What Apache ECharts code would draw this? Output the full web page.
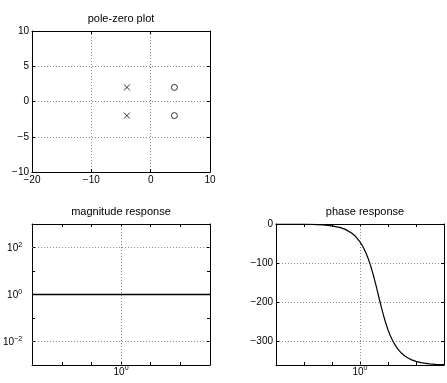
<!DOCTYPE html>
<html>
<head>
<meta charset="utf-8">
<script src="https://cdn.jsdelivr.net/npm/echarts@6/dist/echarts.min.js"></script>
<style>
html,body{margin:0;padding:0;background:#fff;}
#c{width:447px;height:383px;}
</style>
</head>
<body>
<div id="c"></div>
<script>
// ---- data ----
var poleRe = [-4, -4];
var poleIm = [2, -2];
var zeroRe = [4, 4];
var zeroIm = [2, -2];

var magFreq = [0.001, 0.01, 0.1, 1, 10, 100, 1000];
var magnitude = [1, 1, 1, 1, 1, 1, 1];

var phaseFreq = [0.001, 0.003, 0.01, 0.02, 0.03, 0.05, 0.1, 0.2, 0.3, 0.5, 0.7, 1, 1.25, 1.5, 1.75, 2, 2.25, 2.5, 2.75, 3, 3.25, 3.5, 3.75, 4, 4.25, 4.47, 5, 5.5, 6, 7, 8, 9, 10, 12, 15, 20, 25, 30, 40, 50, 70, 100, 150, 200, 300, 500, 1000];
var phase = [-0.05, -0.14, -0.46, -0.92, -1.4, -2.3, -4.6, -9.2, -13.7, -22.9, -32.0, -45.7, -56.9, -68.1, -79.2, -90, -100.6, -111.0, -121.0, -130.8, -140.1, -149.1, -157.6, -165.7, -173.5, -180, -194.3, -206.2, -216.9, -234.8, -249.0, -260.6, -270, -284.5, -299.3, -314.3, -323.4, -329.5, -337.1, -341.7, -346.9, -350.8, -353.9, -355.4, -356.9, -358.2, -359.1];

var pzXTicks = [-20, -10, 0, 10];
var pzYTicks = [-10, -5, 0, 5, 10];
var magYLabelExps = [-2, 0, 2];
var logXLabelExps = [0];
var phaseYTicks = [-300, -200, -100, 0];

var titles = ['pole-zero plot', 'magnitude response', 'phase response'];

// ---- helpers ----
var FONT = '"Liberation Sans", Arial, Helvetica, sans-serif';
function zip(a, b) { return a.map(function (v, i) { return [v, b[i]]; }); }
function num(v) { return v < 0 ? '\u2212' + Math.abs(v) : String(v); }
function pow10Label(exp) { return '{b|10}{s|' + num(exp) + '}'; }
var rich = {
  b: { fontSize: 10, fontFamily: FONT, color: '#000', lineHeight: 12, verticalAlign: 'bottom' },
  s: { fontSize: 7, fontFamily: FONT, color: '#000', lineHeight: 7, verticalAlign: 'top', padding: [0, 0, 6, 0] }
};
var dotted = { color: '#888', width: 1, type: [1, 2] };
var lineBlack = { show: true, onZero: false, lineStyle: { color: '#000', width: 1 } };
var tickIn = { show: true, inside: true, length: 3, lineStyle: { color: '#000', width: 1 } };

function valAxis(grid, pos, min, max, interval, ticks, withLabel, withSplit, margin) {
  return {
    type: 'value', gridIndex: grid, position: pos, min: min, max: max, interval: interval,
    axisLine: lineBlack, axisTick: tickIn,
    axisLabel: withLabel ? {
      show: true, margin: margin, color: '#000', fontSize: 10, fontFamily: FONT,
      formatter: function (v) { return ticks.indexOf(v) >= 0 ? num(v) : ''; }
    } : { show: false },
    splitLine: withSplit ? { show: true, lineStyle: dotted } : { show: false }
  };
}
function logAxis(grid, pos, exps, withLabel, margin) {
  return {
    type: 'log', logBase: 10, gridIndex: grid, position: pos, min: 0.001, max: 1000, interval: 1,
    axisLine: lineBlack, axisTick: tickIn,
    axisLabel: withLabel ? {
      show: true, margin: margin, rich: rich,
      formatter: function (v) {
        var e = Math.round(Math.log10(v));
        return exps.indexOf(e) >= 0 ? pow10Label(e) : '';
      }
    } : { show: false },
    splitLine: { show: false }
  };
}

var option = {
  animation: false,
  backgroundColor: '#fff',
  graphic: [
    { type: 'text', x: 121, y: 19, style: { text: titles[0], textAlign: 'center', textVerticalAlign: 'middle', font: '11px ' + FONT, fill: '#000' } },
    { type: 'text', x: 121, y: 212, style: { text: titles[1], textAlign: 'center', textVerticalAlign: 'middle', font: '11px ' + FONT, fill: '#000' } },
    { type: 'text', x: 365, y: 212, style: { text: titles[2], textAlign: 'center', textVerticalAlign: 'middle', font: '11px ' + FONT, fill: '#000' } }
  ],
  grid: [
    { left: 32, top: 31, width: 178, height: 141 },
    { left: 32, top: 224, width: 178, height: 141 },
    { left: 276, top: 224, width: 178, height: 141 }
  ],
  xAxis: [
    valAxis(0, 'bottom', -20, 10, 10, pzXTicks, true, true, 3),
    valAxis(0, 'top', -20, 10, 10, pzXTicks, false, false, 0),
    logAxis(1, 'bottom', logXLabelExps, true, 0),
    logAxis(1, 'top', [], false, 0),
    logAxis(2, 'bottom', logXLabelExps, true, 0),
    logAxis(2, 'top', [], false, 0)
  ],
  yAxis: [
    valAxis(0, 'left', -10, 10, 5, pzYTicks, true, true, 3),
    valAxis(0, 'right', -10, 10, 5, pzYTicks, false, false, 0),
    logAxis(1, 'left', magYLabelExps, true, 10),
    logAxis(1, 'right', [], false, 0),
    {
      type: 'value', gridIndex: 2, position: 'left', min: -360, max: 0, splitNumber: 4,
      axisLine: lineBlack, axisTick: tickIn,
      axisLabel: { show: true, margin: 3, color: '#000', fontSize: 10, fontFamily: FONT,
        formatter: function (v) { return phaseYTicks.indexOf(v) >= 0 ? num(v) : ''; } },
      splitLine: { show: true, lineStyle: dotted }
    },
    {
      type: 'value', gridIndex: 2, position: 'right', min: -360, max: 0, splitNumber: 4,
      axisLine: lineBlack, axisTick: tickIn, axisLabel: { show: false }, splitLine: { show: false }
    }
  ],
  series: [
    {
      type: 'scatter', xAxisIndex: 0, yAxisIndex: 0, data: zip(poleRe, poleIm),
      symbol: 'path://M0,0L10,10M10,0L0,10', symbolSize: 6,
      itemStyle: { color: 'rgba(0,0,0,0)', borderColor: '#000', borderWidth: 1 }
    },
    {
      type: 'scatter', xAxisIndex: 0, yAxisIndex: 0, data: zip(zeroRe, zeroIm),
      symbol: 'circle', symbolSize: 6,
      itemStyle: { color: 'rgba(0,0,0,0)', borderColor: '#000', borderWidth: 1 }
    },
    {
      type: 'line', xAxisIndex: 2, yAxisIndex: 2, data: zip(magFreq, magnitude),
      showSymbol: false, symbol: 'none', lineStyle: { color: '#000', width: 1.5 },
      markLine: {
        silent: true, symbol: 'none', label: { show: false },
        lineStyle: dotted,
        data: [{ yAxis: 100 }, { yAxis: 0.01 }, { xAxis: 1 }]
      }
    },
    {
      type: 'line', xAxisIndex: 4, yAxisIndex: 4, data: zip(phaseFreq, phase),
      showSymbol: false, symbol: 'none', lineStyle: { color: '#000', width: 1.2 },
      markLine: {
        silent: true, symbol: 'none', label: { show: false },
        lineStyle: dotted,
        data: [{ xAxis: 1 }]
      }
    }
  ]
};
var chart = echarts.init(document.getElementById('c'), null, { renderer: 'canvas' });
chart.setOption(option);
</script>
</body>
</html>
